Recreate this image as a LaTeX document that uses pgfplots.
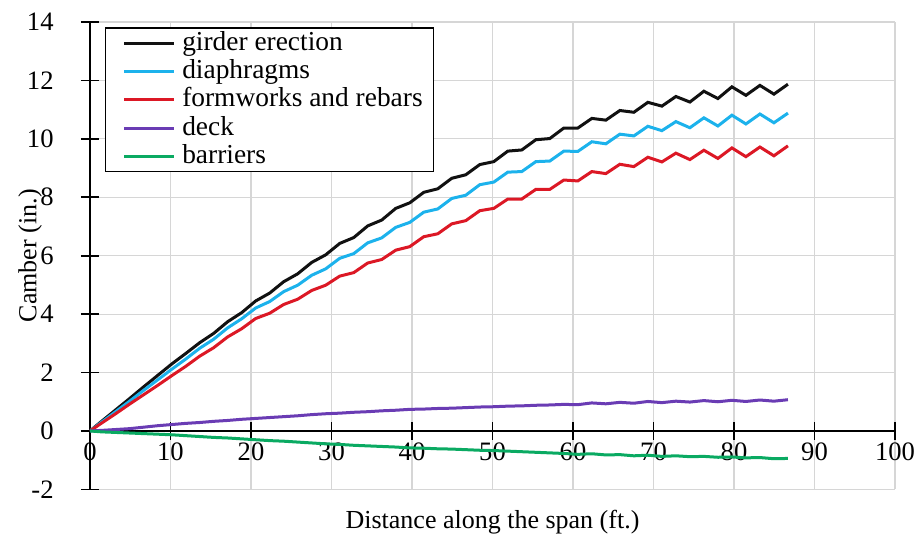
\documentclass[border=0pt]{standalone}
\usepackage{pgfplots}
\pgfplotsset{compat=1.18}
\usepackage{pgfplotstable}
\usepackage{fontspec}
\setmainfont{Liberation Serif}
\definecolor{cgird}{HTML}{111111}
\definecolor{cdiaph}{HTML}{1CB2EC}
\definecolor{cform}{HTML}{DC1825}
\definecolor{cdeck}{HTML}{6A3CB4}
\definecolor{cbarr}{HTML}{0AAA62}

\pgfplotstableread{
x b c r d g
0 0 0 0 0 0
1.44 0.33 0.30 0.27 0.02 -0.03
3.18 0.72 0.66 0.59 0.05 -0.05
4.92 1.11 1.02 0.92 0.08 -0.07
6.66 1.51 1.39 1.24 0.13 -0.09
8.40 1.90 1.75 1.56 0.18 -0.11
10.14 2.29 2.11 1.89 0.22 -0.13
11.88 2.65 2.46 2.21 0.26 -0.16
13.62 3.02 2.83 2.56 0.29 -0.19
15.36 3.34 3.14 2.85 0.33 -0.22
17.10 3.74 3.53 3.22 0.36 -0.24
18.84 4.05 3.84 3.50 0.40 -0.27
20.58 4.45 4.21 3.85 0.43 -0.30
22.32 4.72 4.43 4.03 0.46 -0.33
24.06 5.11 4.77 4.33 0.49 -0.35
25.80 5.38 4.99 4.51 0.52 -0.38
27.54 5.77 5.33 4.81 0.56 -0.41
29.28 6.03 5.55 4.99 0.59 -0.44
31.02 6.42 5.91 5.30 0.61 -0.46
32.76 6.62 6.07 5.42 0.64 -0.49
34.50 7.02 6.44 5.75 0.66 -0.51
36.24 7.22 6.61 5.87 0.69 -0.53
37.98 7.62 6.97 6.19 0.71 -0.55
39.72 7.81 7.14 6.31 0.74 -0.58
41.46 8.17 7.49 6.65 0.75 -0.59
43.20 8.29 7.60 6.75 0.77 -0.61
44.94 8.65 7.96 7.09 0.78 -0.62
46.68 8.77 8.07 7.20 0.80 -0.64
48.42 9.12 8.43 7.54 0.82 -0.66
50.16 9.22 8.52 7.62 0.83 -0.67
51.90 9.58 8.86 7.94 0.85 -0.69
53.64 9.62 8.88 7.94 0.86 -0.71
55.38 9.97 9.22 8.27 0.88 -0.73
57.12 10.01 9.24 8.27 0.89 -0.75
58.86 10.37 9.58 8.59 0.91 -0.77
60.60 10.37 9.57 8.56 0.90 -0.80
62.34 10.70 9.90 8.88 0.96 -0.78
64.08 10.64 9.83 8.81 0.93 -0.82
65.82 10.97 10.16 9.13 0.98 -0.81
67.56 10.91 10.10 9.05 0.95 -0.85
69.30 11.25 10.43 9.37 1.01 -0.83
71.04 11.12 10.28 9.21 0.97 -0.87
72.78 11.45 10.59 9.51 1.02 -0.85
74.52 11.26 10.38 9.29 0.99 -0.88
76.26 11.63 10.72 9.61 1.04 -0.87
78.00 11.38 10.44 9.33 1.00 -0.90
79.74 11.78 10.81 9.69 1.05 -0.89
81.48 11.49 10.51 9.39 1.01 -0.92
83.22 11.83 10.85 9.72 1.06 -0.91
84.96 11.53 10.55 9.42 1.02 -0.95
86.70 11.87 10.88 9.76 1.07 -0.94
}\camber

\begin{document}
\begin{tikzpicture}
\path[use as bounding box] (-45bp,-24.3bp) rectangle (415bp,244.7bp);
\begin{axis}[
  scale only axis, width=402.5bp, height=233.7bp,
  at={(0,0)}, anchor=south west,
  xmin=0, xmax=100, ymin=-2, ymax=14,
  xtick={0,10,...,100}, ytick={-2,0,...,14},
  axis x line*=middle, axis y line*=left,
  hide obscured x ticks=false, hide obscured y ticks=false,
  tick align=center, major tick length=9bp,
  every tick/.style={black, line width=0.8bp},
  axis line style={black, line width=0.8bp},
  grid=major, major grid style={color=black!16, line width=0.6bp},
  font=\fontsize{13.3bp}{16bp}\selectfont,
  /pgf/number format/assume math mode=true,
  xticklabel style={anchor=north, inner sep=0pt, yshift=-1.3bp},
  yticklabel style={anchor=east, inner sep=0pt, xshift=-13.5bp},
  xlabel={Distance along the span (ft.)},
  ylabel={Camber (in.)},
  xlabel style={at={(axis description cs:0.5,-0.0697)}, anchor=center, font=\fontsize{13bp}{15bp}\selectfont},
  ylabel style={at={(axis description cs:-0.0745,0.5)}, anchor=center, font=\fontsize{13bp}{15bp}\selectfont},
  legend cell align=left,
  legend image code/.code={\path (0bp,0bp); \draw[#1, line width=1.5bp] (3bp,0bp) -- (28bp,0bp);},
  legend style={at={(axis description cs:0.0186,0.9887)}, anchor=north west,
    draw=black, line width=0.7bp, fill=white,
    inner xsep=5.5bp, inner ysep=0.5bp,
    font=\fontsize{13.7bp}{16bp}\selectfont,
    nodes={inner sep=0pt, text height=10.6bp, text depth=3.55bp},
    /tikz/every odd column/.append style={column sep=3.3bp}},
  every axis plot/.append style={line width=1.5bp},
]
\addplot[cgird] table[x=x, y=b] {\camber};
\addlegendentry{girder erection}
\addplot[cdiaph] table[x=x, y=c] {\camber};
\addlegendentry{diaphragms}
\addplot[cform] table[x=x, y=r] {\camber};
\addlegendentry{formworks and rebars}
\addplot[cdeck] table[x=x, y=d] {\camber};
\addlegendentry{deck}
\addplot[cbarr] table[x=x, y=g] {\camber};
\addlegendentry{barriers}
\end{axis}
\end{tikzpicture}
\end{document}
